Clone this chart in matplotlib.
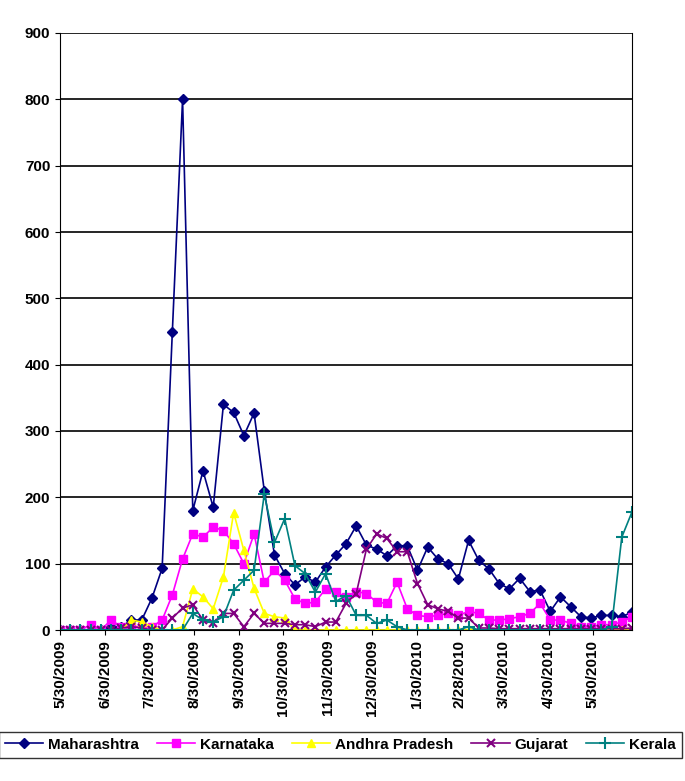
import datetime as dt
import matplotlib.pyplot as plt

start = dt.date(2009, 5, 30)
weeks = [start + dt.timedelta(days=7 * i) for i in range(57)]

maharashtra = [0, 0, 0, 0, 0, 5, 5, 15, 15, 48, 93, 450, 800, 180, 240, 185, 340, 328, 293, 327,
               210, 113, 85, 68, 80, 72, 95, 113, 130, 157, 128, 122, 112, 127, 127, 90, 125, 107, 100, 77,
               135, 105, 92, 70, 62, 78, 58, 60, 28, 50, 35, 20, 18, 22, 22, 20, 27]
karnataka = [0, 0, 0, 8, 0, 15, 5, 5, 5, 5, 15, 53, 107, 145, 140, 155, 150, 130, 100, 145,
             72, 90, 75, 47, 40, 42, 62, 57, 50, 58, 55, 42, 40, 72, 32, 22, 20, 22, 25, 22,
             28, 25, 15, 15, 17, 20, 25, 40, 15, 15, 10, 5, 5, 8, 8, 12, 20]
andhra = [0, 0, 0, 0, 0, 0, 0, 15, 12, 5, 0, 0, 5, 62, 50, 32, 80, 177, 120, 63,
          25, 20, 18, 0, 0, 0, 0, 0, 0, 0, 0, 0, 0, 0, 0, 0, 0, 0, 0, 0,
          0, 0, 0, 0, 0, 0, 0, 0, 0, 0, 0, 0, 0, 0, 0, 0, 0]
gujarat = [0, 0, 0, 0, 0, 0, 3, 5, 3, 0, 0, 18, 33, 38, 15, 10, 25, 25, 5, 25,
           10, 10, 10, 8, 8, 5, 12, 12, 40, 55, 122, 145, 138, 118, 118, 70, 38, 32, 28, 18,
           18, 3, 3, 2, 2, 2, 2, 2, 2, 2, 2, 2, 2, 2, 2, 2, 3]
kerala = [0, 0, 0, 0, 0, 0, 0, 0, 0, 0, 0, 0, 0, 25, 15, 12, 20, 60, 75, 90,
          205, 132, 168, 97, 85, 57, 85, 43, 52, 22, 22, 10, 15, 5, 0, 0, 0, 0, 0, 0,
          5, 0, 0, 0, 0, 0, 0, 0, 0, 0, 0, 0, 0, 0, 5, 140, 178]

tick_dates = [dt.date(2009, 5, 30), dt.date(2009, 6, 30), dt.date(2009, 7, 30), dt.date(2009, 8, 30),
              dt.date(2009, 9, 30), dt.date(2009, 10, 30), dt.date(2009, 11, 30), dt.date(2009, 12, 30),
              dt.date(2010, 1, 30), dt.date(2010, 2, 28), dt.date(2010, 3, 30), dt.date(2010, 4, 30),
              dt.date(2010, 5, 30)]

plt.rcParams['font.family'] = ['Liberation Sans', 'DejaVu Sans']
fig = plt.figure(figsize=(6.85, 7.81), dpi=100)
ax = fig.add_axes([60 / 685, 1 - 630 / 781, 572 / 685, 597 / 781])

ax.plot(weeks, maharashtra, color='#000080', marker='D', markersize=5, lw=1.2, label='Maharashtra')
ax.plot(weeks, karnataka, color='#FF00FF', marker='s', markersize=6, lw=1.2, label='Karnataka')
ax.plot(weeks, andhra, color='#FFFF00', marker='^', markersize=6, lw=1.2, label='Andhra Pradesh')
ax.plot(weeks, gujarat, color='#800080', marker='x', markersize=6, mew=1.5, lw=1.2, label='Gujarat')
ax.plot(weeks, kerala, color='#008080', marker='+', markersize=8, mew=1.5, lw=1.2, label='Kerala')

ax.set_ylim(0, 900)
ax.set_yticks(range(0, 901, 100))
ax.set_xlim(weeks[0], weeks[-1])
ax.set_xticks(tick_dates)
ax.set_xticklabels([f"{d.month}/{d.day}/{d.year}" for d in tick_dates], rotation=90,
                   fontsize=11, fontweight='bold')
for lab in ax.get_yticklabels():
    lab.set_fontsize(11)
    lab.set_fontweight('bold')
ax.grid(axis='y', color='black', lw=1.2)
ax.set_axisbelow(True)
ax.spines['top'].set_visible(False)

leg = fig.legend(loc='lower center', bbox_to_anchor=(0.497, 0.02), ncol=5, frameon=True,
                 fancybox=False, edgecolor='black', fontsize=11, handlelength=2.5,
                 columnspacing=1.2, handletextpad=0.3, borderpad=0.4)
for t in leg.get_texts():
    t.set_fontweight('bold')

fig.savefig('out.png', dpi=100)
